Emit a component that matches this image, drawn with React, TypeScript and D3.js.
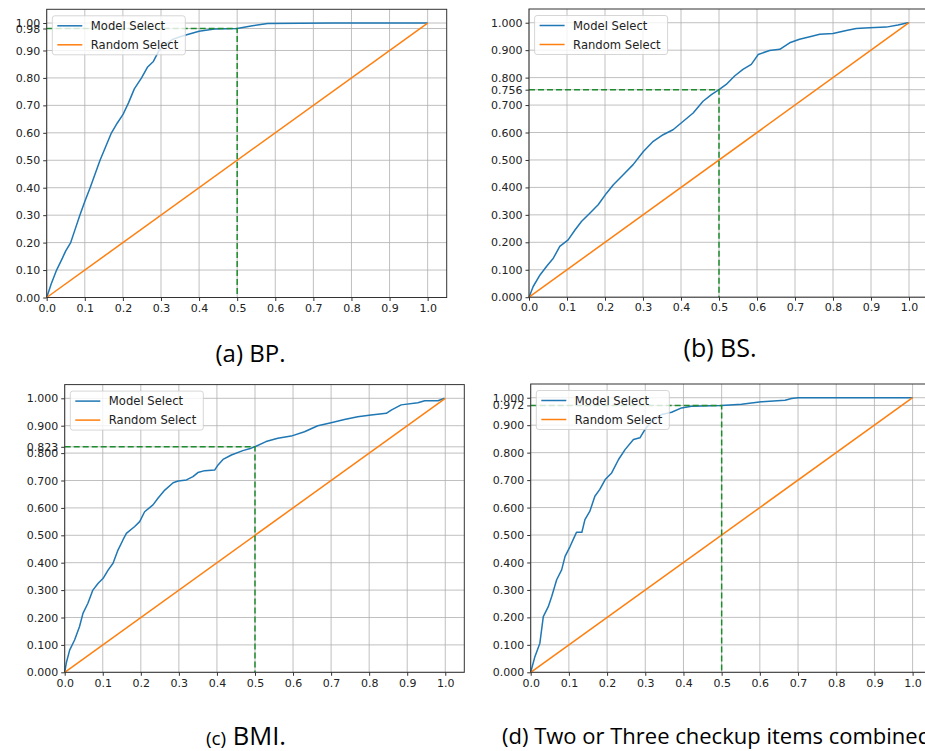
import React, { useEffect, useRef } from 'react';
import * as d3 from 'd3';

// Data
const legendLabels = ['Model Select', 'Random Select'];
const xTicks = [0, 0.1, 0.2, 0.3, 0.4, 0.5, 0.6, 0.7, 0.8, 0.9, 1.0];
const yTicks = [0, 0.1, 0.2, 0.3, 0.4, 0.5, 0.6, 0.7, 0.8, 0.9, 1.0];
const randomX = [0, 1];
const randomY = [0, 1];
const cutX = 0.5;

// (a) BP
const bpFpr = [0, 0.012, 0.026, 0.04, 0.05, 0.063, 0.075, 0.087, 0.1, 0.114, 0.127, 0.14, 0.155, 0.17, 0.185, 0.2, 0.215, 0.23, 0.249, 0.265, 0.28, 0.295, 0.31, 0.33, 0.35, 0.37, 0.40, 0.44, 0.5, 0.54, 0.58, 0.75, 0.9, 1.0];
const bpTpr = [0, 0.05, 0.1, 0.14, 0.17, 0.2, 0.25, 0.3, 0.35, 0.4, 0.45, 0.5, 0.55, 0.6, 0.635, 0.666, 0.71, 0.76, 0.8, 0.84, 0.86, 0.9, 0.92, 0.94, 0.95, 0.958, 0.97, 0.978, 0.98, 0.99, 0.998, 1.0, 1.0, 1.0];
const bpCut = 0.98;

// (b) BS
const bsFpr = [0, 0.011, 0.029, 0.046, 0.064, 0.081, 0.103, 0.121, 0.138, 0.16, 0.182, 0.204, 0.222, 0.248, 0.274, 0.301, 0.327, 0.353, 0.379, 0.406, 0.432, 0.458, 0.48, 0.5, 0.519, 0.541, 0.563, 0.585, 0.603, 0.633, 0.66, 0.686, 0.712, 0.739, 0.765, 0.8, 0.835, 0.861, 0.896, 0.94, 0.971, 0.997, 1.0];
const bsTpr = [0, 0.039, 0.081, 0.112, 0.142, 0.185, 0.209, 0.245, 0.276, 0.306, 0.337, 0.379, 0.41, 0.446, 0.483, 0.531, 0.568, 0.592, 0.61, 0.641, 0.671, 0.714, 0.738, 0.756, 0.775, 0.806, 0.83, 0.848, 0.884, 0.899, 0.903, 0.927, 0.94, 0.949, 0.958, 0.961, 0.972, 0.979, 0.982, 0.984, 0.992, 1.0, 1.0];
const bsCut = 0.756;

// (c) BMI
const bmiFpr = [0, 0.004, 0.013, 0.026, 0.039, 0.048, 0.061, 0.074, 0.088, 0.101, 0.114, 0.127, 0.14, 0.153, 0.162, 0.184, 0.197, 0.21, 0.232, 0.245, 0.263, 0.285, 0.298, 0.32, 0.337, 0.35, 0.368, 0.394, 0.403, 0.416, 0.438, 0.468, 0.49, 0.5, 0.529, 0.56, 0.595, 0.63, 0.665, 0.7, 0.735, 0.77, 0.805, 0.845, 0.858, 0.884, 0.928, 0.946, 0.981, 0.998];
const bmiTpr = [0, 0.033, 0.081, 0.118, 0.167, 0.215, 0.252, 0.3, 0.325, 0.343, 0.373, 0.398, 0.446, 0.483, 0.507, 0.532, 0.55, 0.586, 0.611, 0.635, 0.665, 0.692, 0.698, 0.702, 0.714, 0.729, 0.736, 0.738, 0.757, 0.777, 0.793, 0.809, 0.818, 0.823, 0.842, 0.854, 0.862, 0.878, 0.9, 0.911, 0.923, 0.933, 0.939, 0.945, 0.957, 0.976, 0.984, 0.991, 0.991, 1.0];
const bmiCut = 0.823;

// (d) combined
const combFpr = [0, 0.011, 0.024, 0.033, 0.046, 0.055, 0.068, 0.081, 0.09, 0.103, 0.115, 0.12, 0.134, 0.142, 0.155, 0.168, 0.181, 0.195, 0.212, 0.23, 0.247, 0.269, 0.286, 0.299, 0.317, 0.343, 0.369, 0.395, 0.421, 0.474, 0.5, 0.552, 0.604, 0.666, 0.683, 0.7, 1.0];
const combTpr = [0, 0.057, 0.106, 0.203, 0.239, 0.276, 0.337, 0.373, 0.422, 0.458, 0.495, 0.51, 0.51, 0.556, 0.587, 0.641, 0.666, 0.702, 0.726, 0.775, 0.811, 0.848, 0.854, 0.884, 0.914, 0.939, 0.947, 0.963, 0.969, 0.971, 0.972, 0.976, 0.985, 0.991, 0.997, 1.0, 1.0];
const combCut = 0.972;

const captions = ['(a) BP.', '(b) BS.', '(c) BMI.', '(d) Two or Three checkup items combined.'];

const App = () => {
  const svgRef = useRef<SVGSVGElement>(null);

  useEffect(() => {
    const svg = d3.select(svgRef.current);
    svg.selectAll('*').remove();

    const panels = [
      { left: 46.7, top: 9.3, width: 400, height: 288.2, fpr: bpFpr, tpr: bpTpr, cut: bpCut, fmt: '.2f' },
      { left: 529, top: 9, width: 399, height: 288.2, fpr: bsFpr, tpr: bsTpr, cut: bsCut, fmt: '.3f' },
      { left: 64.7, top: 384.6, width: 399.6, height: 287.7, fpr: bmiFpr, tpr: bmiTpr, cut: bmiCut, fmt: '.3f' },
      { left: 530.7, top: 384, width: 401, height: 288.3, fpr: combFpr, tpr: combTpr, cut: combCut, fmt: '.3f' },
    ];

    panels.forEach(p => {
      const g = svg.append('g').attr('transform', `translate(${p.left},${p.top})`);
      const x = d3.scaleLinear().domain([0, 1.05]).range([0, p.width]);
      const y = d3.scaleLinear().domain([0, 1.05]).range([p.height, 0]);
      const yVals = yTicks.concat([p.cut]);

      // grid
      g.selectAll('.vgrid').data(xTicks).enter().append('line')
        .attr('x1', d => x(d)).attr('x2', d => x(d))
        .attr('y1', 0).attr('y2', p.height)
        .style('stroke', '#b0b0b0').style('stroke-width', 0.8);
      g.selectAll('.hgrid').data(yVals).enter().append('line')
        .attr('x1', 0).attr('x2', p.width)
        .attr('y1', d => y(d)).attr('y2', d => y(d))
        .style('stroke', '#b0b0b0').style('stroke-width', 0.8);

      const line = d3.line<[number, number]>().x(d => x(d[0])).y(d => y(d[1]));

      // model curve
      g.append('path')
        .datum(p.fpr.map((v, i) => [v, p.tpr[i]] as [number, number]))
        .attr('fill', 'none').attr('stroke', '#1f77b4').attr('stroke-width', 1.5)
        .attr('stroke-linejoin', 'round')
        .attr('d', line);

      // random line
      g.append('path')
        .datum(randomX.map((v, i) => [v, randomY[i]] as [number, number]))
        .attr('fill', 'none').attr('stroke', '#ff7f0e').attr('stroke-width', 1.5)
        .attr('d', line);

      // cut-off guide
      g.append('path')
        .datum([[0, p.cut], [cutX, p.cut], [cutX, 0]] as [number, number][])
        .attr('fill', 'none').attr('stroke', '#1e8c2e').attr('stroke-width', 1.5)
        .attr('stroke-dasharray', '6,3')
        .attr('d', line);

      // axes
      const xAxis = g.append('g').attr('transform', `translate(0,${p.height})`)
        .call(d3.axisBottom(x).tickValues(xTicks).tickFormat(d3.format('.1f')).tickSize(3.5).tickPadding(3));
      const yAxis = g.append('g')
        .call(d3.axisLeft(y).tickValues(yVals).tickFormat(d3.format(p.fmt)).tickSize(3.5).tickPadding(3));
      [xAxis, yAxis].forEach(a => {
        a.select('.domain').remove();
        a.selectAll('line').attr('stroke', '#333');
        a.selectAll('text')
          .attr('fill', '#222')
          .style('font-family', '"DejaVu Sans", sans-serif')
          .style('font-size', '11px');
      });

      // frame
      g.append('rect')
        .attr('width', p.width).attr('height', p.height)
        .attr('fill', 'none').attr('stroke', '#333').attr('stroke-width', 1);

      // legend
      const lg = g.append('g').attr('transform', 'translate(5.6,6.5)');
      lg.append('rect')
        .attr('width', 133).attr('height', 39).attr('rx', 2.5)
        .attr('fill', 'white').attr('fill-opacity', 0.8)
        .attr('stroke', '#cccccc').attr('stroke-opacity', 0.8);
      legendLabels.forEach((label, i) => {
        const ly = 10 + i * 19;
        lg.append('line')
          .attr('x1', 5).attr('x2', 30).attr('y1', ly).attr('y2', ly)
          .attr('stroke', i === 0 ? '#1f77b4' : '#ff7f0e').attr('stroke-width', 1.5);
        lg.append('text')
          .attr('x', 38.5).attr('y', ly).attr('dy', '0.35em')
          .style('font-family', '"DejaVu Sans", sans-serif')
          .style('font-size', '11.6px')
          .attr('fill', '#222')
          .text(label);
      });
    });

    // captions
    const capFont = '"Open Sans", sans-serif';
    svg.append('text').attr('x', 250.5).attr('y', 362).attr('text-anchor', 'middle')
      .style('font-family', capFont).style('font-size', '24px').text(captions[0]);
    svg.append('text').attr('x', 720).attr('y', 357).attr('text-anchor', 'middle')
      .style('font-family', capFont).style('font-size', '25px').text(captions[1]);
    const c = svg.append('text').attr('x', 246).attr('y', 745).attr('text-anchor', 'middle')
      .style('font-family', capFont);
    const [cTag, cRest] = [captions[2].slice(0, 3), captions[2].slice(3)];
    c.append('tspan').style('font-size', '19px').text(cTag);
    c.append('tspan').style('font-size', '25.5px').text(cRest);
    svg.append('text').attr('x', 502).attr('y', 744)
      .style('font-family', capFont).style('font-size', '22px').text(captions[3]);
  }, []);

  return (
    <svg ref={svgRef} width={925} height={751} style={{ position: 'absolute', left: 0, top: 0, background: 'white' }}></svg>
  );
};

export default App;
